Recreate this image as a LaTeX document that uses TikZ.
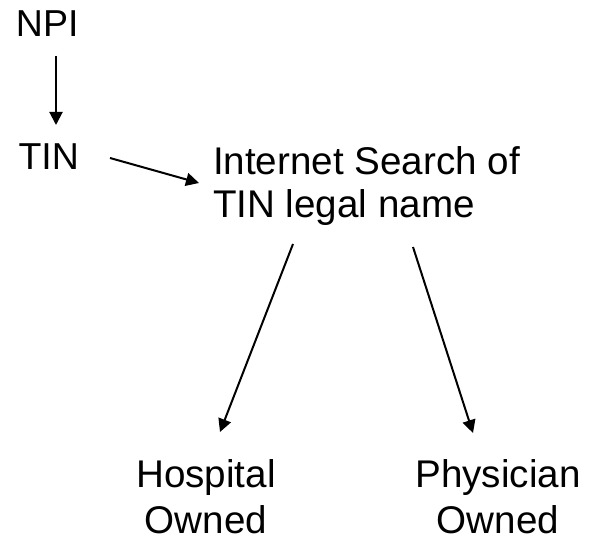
\documentclass[tikz,border=0pt]{standalone}
\usepackage{fontspec}
\setmainfont{Liberation Sans}
\usetikzlibrary{arrows.meta,calc}
\begin{document}
\begin{tikzpicture}[x=1pt,y=-1pt,
  lbl/.style={inner sep=0pt,outer sep=0pt,font=\fontsize{37.5}{44}\selectfont},
  arr/.style={line width=2pt,-{Triangle[length=13pt,width=13pt]}}]
\useasboundingbox (0,0) rectangle (600,540);
\node[lbl,anchor=base west] (npi) at (16,37) {NPI};
\node[lbl,anchor=base west] (tin) at (18.5,170) {TIN};
\node[lbl,anchor=base west,align=left,font=\fontsize{38.6}{43}\selectfont] (isearch) at (213,218) {Internet Search of\\TIN legal name};
\node[lbl,anchor=base,align=center,font=\fontsize{38.6}{46}\selectfont] (hosp) at (206,533) {Hospital\\Owned};
\node[lbl,anchor=base,align=center,font=\fontsize{38.6}{46}\selectfont] (phys) at (498,533) {Physician\\Owned};
\draw[arr] ($(npi.base west)+(40,19)$) -- ($(tin.base west)+(37.5,-45)$);
\draw[arr] ($(tin.base west)+(91.5,-12)$) -- ($(isearch.base west)+(-14,-35)$);
\draw[arr] ($(isearch.base west)+(80,26)$) -- ($(hosp.base)+(14,-101)$);
\draw[arr] ($(isearch.base west)+(200,29)$) -- ($(phys.base)+(-25,-100)$);
\end{tikzpicture}
\end{document}
